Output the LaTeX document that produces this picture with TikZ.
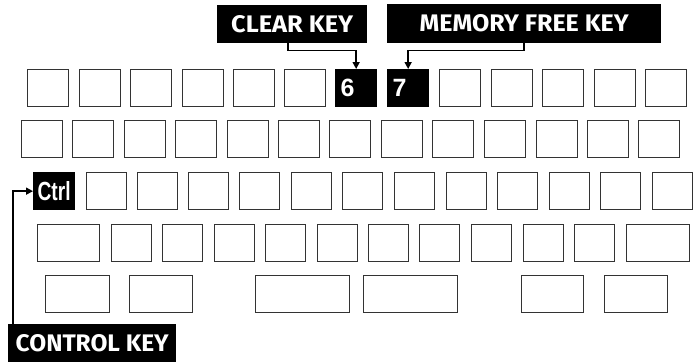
\documentclass[tikz,border=0pt]{standalone}
\usepackage{fontspec}
\usepackage{graphicx}
\usetikzlibrary{arrows.meta}
\newfontfamily\lblfont{Fira Sans}
\newfontfamily\keyfont{Liberation Sans}
\tikzset{
  kbkey/.style={draw=black!80, line width=1.3pt, fill=white, inner sep=0pt, minimum height=37pt, anchor=north west},
  kbdark/.style={kbkey, draw=black, fill=black, text=white},
  lbl/.style={fill=black, text=white, inner sep=0pt, anchor=north west, font=\lblfont\bfseries},
  conn/.style={line width=1.6pt, -{Triangle[length=7pt,width=7pt]}}
}
\begin{document}
\begin{tikzpicture}[x=1pt,y=-1pt]
\fill[white] (0,0) rectangle (696,362);
\useasboundingbox (0,0) rectangle (696,362);
% row 1
\foreach \x [count=\i] in {27,79,130,182,233,284,439,491,542,594,645}
  \node[kbkey, minimum width=41pt] (ra\i) at (\x,69) {};
\node[kbdark, minimum width=41pt, text width=31pt, inner xsep=5pt, align=left, font=\keyfont\bfseries\fontsize{25}{25}\selectfont] (k6) at (335,69) {\raisebox{-3pt}{6}};
\node[kbdark, minimum width=41pt, text width=31pt, inner xsep=5pt, align=left, font=\keyfont\bfseries\fontsize{25}{25}\selectfont] (k7) at (387,69) {\raisebox{-3pt}{7}};
% row 2
\foreach \x [count=\i] in {21,72,124,175,227,278,329,381,432,484,536,587,638}
  \node[kbkey, minimum width=41pt] (rb\i) at (\x,120) {};
% row 3
\node[kbdark, minimum width=41pt, font=\keyfont\bfseries] (kctrl) at (33,172) {\resizebox{33pt}{19pt}{Ctrl}};
\foreach \x [count=\i] in {86,137,188,239,291,342,394,446,497,549,600,652}
  \node[kbkey, minimum width=40pt] (rc\i) at (\x,172) {};
% row 4
\node[kbkey, minimum width=62pt] (rd0) at (37,224) {};
\foreach \x [count=\i] in {111,162,214,265,317,368,419,471,523,574}
  \node[kbkey, minimum width=40pt] (rd\i) at (\x,224) {};
\node[kbkey, minimum width=63pt] (rd11) at (626,224) {};
% row 5
\node[kbkey, minimum width=64pt] (re1) at (45,275) {};
\node[kbkey, minimum width=63pt] (re2) at (129,275) {};
\node[kbkey, minimum width=94pt] (re3) at (255,275) {};
\node[kbkey, minimum width=94pt] (re4) at (363,275) {};
\node[kbkey, minimum width=62pt] (re5) at (521,275) {};
\node[kbkey, minimum width=63pt] (re6) at (604,275) {};
% labels
\node[lbl, minimum width=150pt, minimum height=38pt] (clear) at (217,5) {\resizebox{122pt}{17pt}{CLEAR KEY}};
\node[lbl, minimum width=274pt, minimum height=39pt] (mem) at (387,4) {\resizebox{209pt}{17pt}{MEMORY FREE KEY}};
\node[lbl, minimum width=168pt, minimum height=38pt] (ctl) at (8,324) {\resizebox{153pt}{17pt}{CONTROL KEY}};
% connectors
\draw[conn] ([xshift=-4pt]clear.south) -- ++(0,7) -| (k6.north);
\draw[conn] (mem.south) -- ++(0,7) -| (k7.north);
\draw[conn] ([xshift=5pt]ctl.north west) |- (kctrl.west);
\end{tikzpicture}
\end{document}
